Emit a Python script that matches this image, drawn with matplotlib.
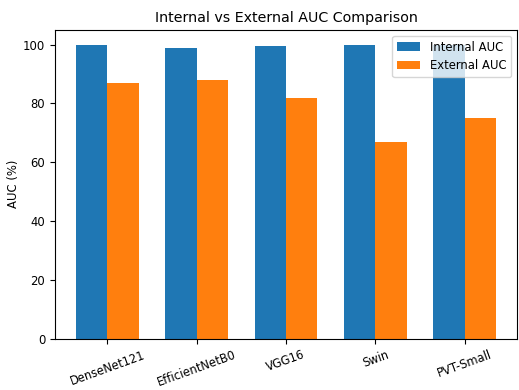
import numpy as np
import matplotlib
matplotlib.use("Agg")
import matplotlib.pyplot as plt

# ------------------ DADOS ------------------
modelos = ['DenseNet121', 'EfficientNetB0', 'VGG16', 'Swin', 'PVT-Small']
auc_interno = [100.0, 99.0, 99.6, 100.0, 100.0]
auc_externo = [87.1, 87.9, 82.0, 67.0, 75.0]

# ------------------ GRAFICO ------------------
x = np.arange(len(modelos))
largura = 0.35

fig, ax = plt.subplots(figsize=(5.19, 3.9), dpi=100)
ax.bar(x - largura / 2, auc_interno, largura, label='Internal AUC')
ax.bar(x + largura / 2, auc_externo, largura, label='External AUC')

ax.set_title("Internal vs External AUC Comparison", fontsize=10.3)
ax.set_ylabel("AUC (%)", fontsize=8.4, labelpad=2)
ax.set_xticks(x)
ax.set_xticklabels(modelos, rotation=20, fontsize=8.3)
ax.tick_params(axis='y', labelsize=8.4)
ax.legend(fontsize=8.4, loc='upper right')

fig.subplots_adjust(left=0.106, right=0.996, top=0.923, bottom=0.132)
fig.savefig("out.png", dpi=100)
